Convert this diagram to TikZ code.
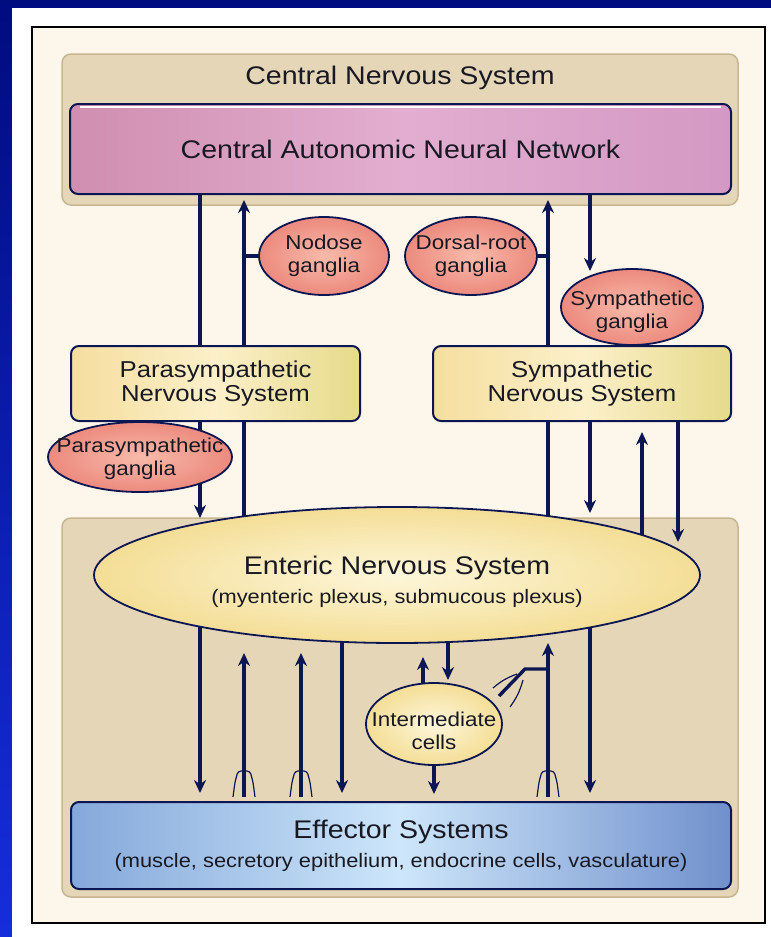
\documentclass[tikz,border=0pt]{standalone}
\usepackage{fontspec}
\setmainfont{Liberation Sans}[FakeStretch=1.12]
\usepackage{xcolor}
\usepackage{tikz}
\usetikzlibrary{arrows.meta,positioning,calc,shapes.geometric}
\definecolor{navy}{RGB}{12,22,82}
\definecolor{ink}{RGB}{25,25,35}
\definecolor{cream}{RGB}{253,246,234}
\definecolor{tanfill}{RGB}{229,214,184}
\definecolor{tanedge}{RGB}{200,182,146}
\definecolor{slidetop}{RGB}{0,12,128}
\definecolor{slidebot}{RGB}{22,45,220}
\definecolor{cannL}{RGB}{208,142,176}
\definecolor{cannM}{RGB}{226,174,208}
\definecolor{cannR}{RGB}{212,152,196}
\definecolor{boxL}{RGB}{245,222,158}
\definecolor{boxM}{RGB}{252,240,202}
\definecolor{boxR}{RGB}{230,218,138}
\definecolor{gangIn}{RGB}{248,186,170}
\definecolor{gangOut}{RGB}{236,138,126}
\definecolor{ensIn}{RGB}{253,246,218}
\definecolor{ensOut}{RGB}{244,222,150}
\definecolor{effL}{RGB}{132,168,218}
\definecolor{effM}{RGB}{205,230,250}
\definecolor{effR}{RGB}{112,144,204}
\pgfdeclarelayer{back}
\pgfdeclarelayer{fibres}
\pgfsetlayers{back,fibres,main}
\tikzset{
  fibre/.style={line width=3.4pt, draw=navy},
  fibreTo/.style={fibre, -{Stealth[length=13pt, width=12pt]}},
  twig/.style={line width=1.2pt, draw=navy},
  region/.style={rectangle, rounded corners=9pt, fill=tanfill, draw=tanedge, line width=1.5pt, inner sep=0pt, outer sep=0pt},
  sysbox/.style={rectangle, rounded corners=8pt, draw=navy, line width=2pt, inner sep=0pt, outer sep=0pt, align=center, text=ink},
  yellowbox/.style={sysbox, left color=boxL, right color=boxR, middle color=boxM},
  gang/.style={ellipse, draw=navy, line width=1.8pt, inner color=gangIn, outer color=gangOut, inner sep=0pt, outer sep=0pt},
  paleball/.style={ellipse, draw=navy, line width=1.8pt, inner color=ensIn, outer color=ensOut, inner sep=0pt, outer sep=0pt},
  lblBig/.style={font=\fontsize{25.5}{28}\selectfont, text=ink},
  lblBox/.style={font=\fontsize{23}{24.5}\selectfont},
  gtxt/.style={font=\fontsize{20}{23.5}\selectfont, align=center, text=ink},
}
\newcommand{\subline}{\fontsize{19.5}{22}\selectfont}

\begin{document}
\begin{tikzpicture}[x=1pt, y=-1pt]
\useasboundingbox (0,0) rectangle (771,937);
\begin{pgfonlayer}{back}
% --- slide and frame ---
\shade[top color=slidetop, bottom color=slidebot] (0,0) rectangle (771,937);
\fill[white] (12,8) rectangle (771,937);
\draw[black, line width=1.5pt, fill=cream] (32,27) rectangle (765,923);
% --- the two large regions ---
\node[region, minimum width=676pt, minimum height=151pt] (cns) at (400,129.5) {};
\node[region, minimum width=676pt, minimum height=379pt] (enr) at (400,707.5) {};
\end{pgfonlayer}

% --- central nervous system ---
\node[lblBig] (cnslbl) at (400,78) {Central Nervous System};
\node[sysbox, left color=cannL, right color=cannR, middle color=cannM,
      minimum width=661pt, minimum height=90pt, lblBig] (cann) at (400.5,149) {Central Autonomic Neural Network};
\draw[white, line width=2pt] ($(cann.north west)+(10,3)$) -- ($(cann.north east)+(-10,3)$);

% --- ganglia ---
\node[gang, minimum width=130pt, minimum height=78pt, label={[gtxt]center:Nodose\\ganglia}] (nod) at (324,256) {};
\node[gang, minimum width=132pt, minimum height=78pt, label={[gtxt]center:Dorsal-root\\ganglia}] (dors) at (471,256) {};
\node[gang, minimum width=142pt, minimum height=76pt, label={[gtxt, yshift=-5pt]center:Sympathetic\\ganglia}] (sgang) at (632,307) {};
\node[gang, minimum width=184pt, minimum height=70pt, label={[gtxt, yshift=-2pt]center:Parasympathetic\\ganglia}] (pgang) at (140,457) {};

% --- autonomic outflow ---
\node[yellowbox, minimum width=289pt, minimum height=75pt, lblBox] (para) at (215.5,383.5) {Parasympathetic\\Nervous System};
\node[yellowbox, minimum width=298pt, minimum height=75pt, lblBox] (symp) at (582,383.5) {Sympathetic\\Nervous System};

% --- enteric nervous system ---
\node[paleball, minimum width=606pt, minimum height=136pt,
      label={[lblBig, align=center, yshift=-7pt]center:Enteric Nervous System\\[1pt]{\subline (myenteric plexus, submucous plexus)}}] (ens) at (397,575) {};
\node[paleball, minimum width=136pt, minimum height=82pt, label={[gtxt, yshift=-7pt]center:Intermediate\\cells}] (inter) at (434,724) {};

% --- effectors ---
\node[sysbox, left color=effL, right color=effR, middle color=effM,
      minimum width=660pt, minimum height=87pt, lblBig] (eff) at (401,845.5)
      {Effector Systems\\[1pt]{\subline (muscle, secretory epithelium, endocrine cells, vasculature)}};

\begin{pgfonlayer}{fibres}
\foreach \n/\x in {pre/200, vag/244, m1/301, m2/342, ia/423, ib/448, dr/548, sy/590, sa/642, sb/678}
  \coordinate (\n) at (\x,0);
% CNS -> parasympathetic -> ENS
\draw[fibre] (pre |- cann.center) -- (pre |- para.center);
\draw[fibreTo] (pre |- para.center) -- (pre |- enr.north);
% afferents back to the CNS
\draw[fibreTo] (vag |- ens.center) -- ($(vag |- cann.south)+(0,6)$);
\draw[fibre] (vag |- nod.center) -- (nod.west);
\draw[fibreTo] (dr |- ens.center) -- ($(dr |- cann.south)+(0,6)$);
\draw[fibre] (dr |- dors.center) -- (dors.east);
% sympathetic pathway
\draw[fibreTo] (sy |- cann.center) -- ($(sy |- sgang.north)+(0,2)$);
\draw[fibreTo] (sy |- symp.center) -- ($(sy |- enr.north)+(0,-5)$);
\draw[fibreTo] (sa |- ens.center) -- ($(sa |- symp.south)+(0,11)$);
\draw[fibreTo] (sb |- symp.center) -- ($(sb |- enr.north)+(0,24)$);
% ENS <-> effectors
\draw[fibreTo] (pre |- ens.center) -- ($(pre |- eff.north)+(0,-9)$);
\draw[fibreTo] ($(vag |- eff.north)+(0,-5)$) -- ($(vag |- ens.south)+(0,10)$);
\draw[fibreTo] ($(m1 |- eff.north)+(0,-5)$) -- ($(m1 |- ens.south)+(0,10)$);
\draw[fibreTo] (m2 |- ens.center) -- ($(m2 |- eff.north)+(0,-9)$);
\draw[fibreTo] (ia |- inter.center) -- ($(ia |- ens.south)+(0,14)$);
\draw[fibreTo] (ib |- ens.center) -- ($(ib |- inter.north)+(0,-3)$);
\draw[fibreTo] (inter.south) -- ($(inter.south |- eff.north)+(0,-8)$);
\draw[fibreTo] ($(dr |- eff.north)+(0,-5)$) -- (dr |- ens.south);
\draw[fibreTo] (sy |- ens.center) -- ($(sy |- eff.north)+(0,-9)$);
% sensory endings
\foreach \t in {vag,m1,dr}
  \draw[twig, rounded corners=3pt] (\t |- eff.north) +(-11,-5) -- +(-9,-20) -- +(-6,-31) -- +(6,-31) -- +(9,-20) -- +(11,-5);
\draw[fibre] ($(dr |- ens.south)+(0,26)$) -- ++(-23,0) -- ++(-26,27) coordinate (drend);
\draw[twig] (drend) +(-6,-8) to[bend left=10] +(18,-22);
\draw[twig] (drend) +(24,-16) to[bend left=10] +(11,11);
\end{pgfonlayer}
\end{tikzpicture}
\end{document}
